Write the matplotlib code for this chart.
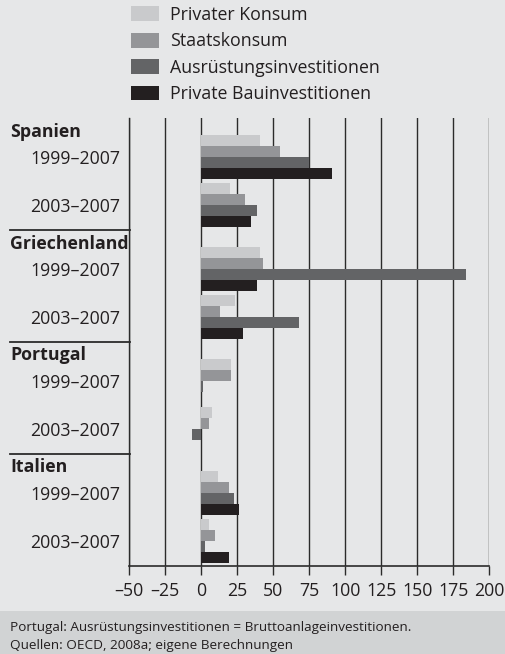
import matplotlib
matplotlib.use("Agg")
import matplotlib.pyplot as plt
from matplotlib.patches import Rectangle
from matplotlib.lines import Line2D
from matplotlib.transforms import blended_transform_factory
import numpy as np

# ---- data ----
series = ["Privater Konsum", "Staatskonsum", "Ausrüstungsinvestitionen", "Private Bauinvestitionen"]
countries = ["Spanien", "Griechenland", "Portugal", "Italien"]
periods = ["1999–2007", "2003–2007"]
# order: Spanien 99, 03, Griechenland 99, 03, Portugal 99, 03, Italien 99, 03
privat = [41, 20, 41, 23.5, 20.5, 7.5, 11.5, 5.5]
staats = [54.5, 30, 43, 13, 20.5, 5.5, 19.5, 9.5]
ausr = [75, 39, 183.5, 67.5, 1, -6.5, 23, 2.5]
bau = [90.5, 34.5, 39, 29, 0, 0, 26.5, 19]
xticks = [-50, -25, 0, 25, 50, 75, 100, 125, 150, 175, 200]
xticklabels = ["–50", "–25", "0", "25", "50", "75", "100", "125", "150", "175", "200"]
footer = ["Portugal: Ausrüstungsinvestitionen = Bruttoanlageinvestitionen.",
          "Quellen: OECD, 2008a; eigene Berechnungen"]

colors = ["#c9cacc", "#949598", "#636466", "#231f20"]
bg = "#e6e7e8"
foot_bg = "#d1d3d4"
txt = "#231f20"

plt.rcParams["font.family"] = ["Open Sans", "DejaVu Sans"]

W, H = 506, 654
fig = plt.figure(figsize=(W / 100, H / 100), dpi=100, facecolor=bg)

# footer band
fig.patches.append(Rectangle((0, 0), 1, (H - 611) / H, transform=fig.transFigure,
                             facecolor=foot_bg, edgecolor="none", zorder=0))

ax_left, ax_right, ax_top, ax_bottom = 129.3, 489.3, 118, 566
ax = fig.add_axes([ax_left / W, (H - ax_bottom) / H, (ax_right - ax_left) / W, (ax_bottom - ax_top) / H])
ax.set_facecolor(bg)

# layout (in pixel-like units from top of axes)
block_h = 112.0
header_h = 16.5
bar_h = 11.0
group_gap = 4.0
n_series = len(series)
total_h = block_h * len(countries)

data = [privat, staats, ausr, bau]
bars_handles = []
for s in range(n_series):
    ys = []
    for c in range(len(countries)):
        for g in range(len(periods)):
            ys.append(c * block_h + header_h + g * (n_series * bar_h + group_gap) + s * bar_h)
    b = ax.barh(ys, data[s], height=bar_h, align="edge", color=colors[s],
                edgecolor="none", zorder=3, label=series[s])
    bars_handles.append(b)

ax.set_xlim(-50, 200)
ax.set_ylim(total_h, 0)
ax.set_xticks(xticks)
ax.set_xticklabels(xticklabels, fontsize=12.8, color=txt)
ax.set_yticks([])
ax.grid(axis="x", color="#2b2b2b", lw=1.0, zorder=1)
for sp in ["top", "right"]:
    ax.spines[sp].set_visible(False)
ax.spines["left"].set_color("#2b2b2b")
ax.spines["bottom"].set_color("#2b2b2b")
ax.spines["left"].set_linewidth(1.0)
ax.spines["bottom"].set_linewidth(1.2)
ax.tick_params(axis="x", length=9 * 0.72, width=1.0, color="#2b2b2b", pad=5.3)

trans = blended_transform_factory(fig.transFigure, ax.transData)
for c, name in enumerate(countries):
    top = c * block_h
    ax.text(10 / W, top + header_h - 3, name, transform=trans, fontsize=12.8,
            fontweight="bold", color=txt, ha="left", va="center")
    for g, p in enumerate(periods):
        gc = top + header_h + g * (n_series * bar_h + group_gap) + n_series * bar_h / 2
        ax.text(120 / W, gc + 2.5, p, transform=trans, fontsize=12.8, color=txt,
                ha="right", va="center")
    if c > 0:
        ln = Line2D([10 / W, (ax_left + 1) / W], [top, top], transform=trans,
                    color="#2b2b2b", lw=1.3, clip_on=False)
        ax.add_line(ln)

ax.legend(handles=bars_handles, labels=series, loc="upper left",
          bbox_to_anchor=(131 / W, 1 - 6 / H), bbox_transform=fig.transFigure,
          frameon=False, borderpad=0, borderaxespad=0, handlelength=1.57,
          handleheight=0.9, handletextpad=0.62, labelspacing=0.47,
          fontsize=12.8, labelcolor=txt)

fig.text(10 / W, 1 - 628 / H, footer[0], fontsize=9.7, color=txt, ha="left", va="center")
fig.text(10 / W, 1 - 646 / H, footer[1], fontsize=9.7, color=txt, ha="left", va="center")

fig.savefig("out.png", dpi=100, facecolor=bg)
